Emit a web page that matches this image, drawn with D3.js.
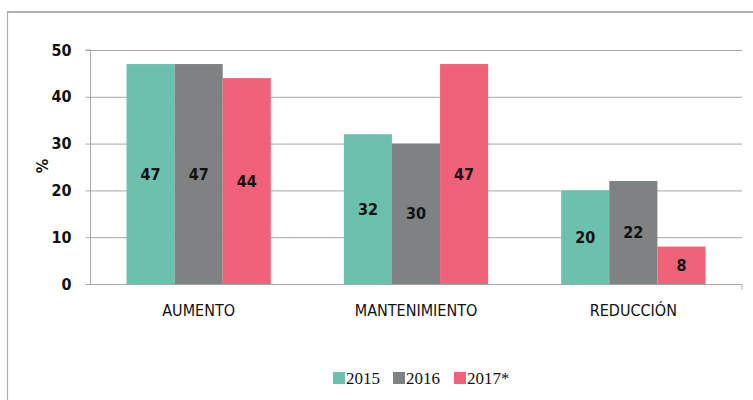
<!DOCTYPE html>
<html><head><meta charset="utf-8">
<script src="https://cdn.jsdelivr.net/npm/d3@7"></script>
<style>body{margin:0;background:#fff}svg{display:block}</style>
</head><body>
<script>
const categories = ["AUMENTO", "MANTENIMIENTO", "REDUCCIÓN"];
const seriesNames = ["2015", "2016", "2017*"];
const values2015 = [47, 32, 20];
const values2016 = [47, 30, 22];
const values2017 = [44, 47, 8];
const yTicks = [0, 10, 20, 30, 40, 50];
const colors = ["#6cc0ae", "#7f8282", "#ef6279"];

(function () {
const series = [values2015, values2016, values2017];
const W = 753, H = 400;
const svg = d3.select("body").append("svg").attr("width", W).attr("height", H);

// outer frame
svg.append("rect").attr("x", 7.5).attr("y", 12).attr("width", 800).attr("height", 500)
  .attr("fill", "none").attr("stroke", "#b0b0b0").attr("stroke-width", 1.2);
svg.append("line").attr("x1", 7).attr("x2", 760).attr("y1", 12).attr("y2", 12)
  .attr("stroke", "#b0b0b0").attr("stroke-width", 2);

const pLeft = 90, pRight = 742, pTop = 50, pBottom = 284;
const x = d3.scaleBand().domain(categories).range([pLeft, pRight]).paddingInner(0.336).paddingOuter(0.168);
const xs = d3.scaleBand().domain(seriesNames).range([0, x.bandwidth()]);
const y = d3.scaleLinear().domain([0, 50]).range([pBottom, pTop]);

const font = "'Liberation Sans Narrow','DejaVu Sans Condensed',Arial,sans-serif";

// gridlines
svg.append("g").selectAll("line").data(yTicks.filter(d => d > 0)).join("line")
  .attr("x1", pLeft).attr("x2", pRight).attr("y1", d => y(d) + 0.5).attr("y2", d => y(d) + 0.5)
  .attr("stroke", "#a6a6a6").attr("stroke-width", 1);

// y axis
const yAxis = svg.append("g").attr("transform", `translate(${pLeft + 0.5},0)`)
  .call(d3.axisLeft(y).tickValues(yTicks).tickSize(5).tickPadding(14).tickFormat(d3.format("d")));
yAxis.select(".domain").attr("stroke", "#a6a6a6").attr("d", `M-5,${pTop}H0V${pBottom}`);
yAxis.selectAll(".tick line").attr("stroke", "#a6a6a6");
yAxis.selectAll(".tick text").attr("font-family", font).attr("font-size", 16).attr("font-weight", "bold").attr("fill", "#111");

// bars
const groups = svg.append("g").selectAll("g").data(categories).join("g")
  .attr("transform", d => `translate(${x(d)},0)`);
const rows = (c, i) => series.map((s, j) => ({ name: seriesNames[j], v: s[i], j }));
groups.selectAll("rect").data(rows).join("rect")
  .attr("x", d => xs(d.name)).attr("width", xs.bandwidth())
  .attr("y", d => y(d.v)).attr("height", d => y(0) - y(d.v))
  .attr("fill", d => colors[d.j]);
groups.selectAll("text").data(rows).join("text")
  .attr("x", d => xs(d.name) + xs.bandwidth() / 2)
  .attr("y", d => (y(d.v) + y(0)) / 2)
  .attr("dy", "0.35em").attr("text-anchor", "middle")
  .attr("font-family", font).attr("font-size", 16).attr("font-weight", "bold").attr("fill", "#111")
  .text(d => d.v);

// x axis
const xAxis = svg.append("g").attr("transform", `translate(0,${pBottom + 0.5})`)
  .call(d3.axisBottom(x).tickSize(0).tickPadding(20));
xAxis.select(".domain").attr("stroke", "#a6a6a6").attr("d", `M${pLeft},0H${pRight}V5`);
xAxis.selectAll(".tick text").attr("font-family", font).attr("font-size", 16).attr("fill", "#111");

// y label
svg.append("text").attr("transform", "translate(42,166) rotate(-90)")
  .attr("text-anchor", "middle").attr("dy", "0.35em")
  .attr("font-family", font).attr("font-size", 16).attr("font-weight", "bold").attr("fill", "#111").text("%");

// legend
const legendX = [333, 393, 454];
const lg = svg.append("g").selectAll("g").data(seriesNames).join("g")
  .attr("transform", (d, i) => `translate(${legendX[i]},378)`);
lg.append("rect").attr("x", 0).attr("y", -6).attr("width", 12).attr("height", 12).attr("fill", (d, i) => colors[i]);
lg.append("text").attr("x", 13).attr("dy", "0.35em")
  .attr("font-family", "'Liberation Serif','DejaVu Serif',serif").attr("font-size", 17).attr("fill", "#111")
  .text(d => d);
})();
</script>
</body></html>
